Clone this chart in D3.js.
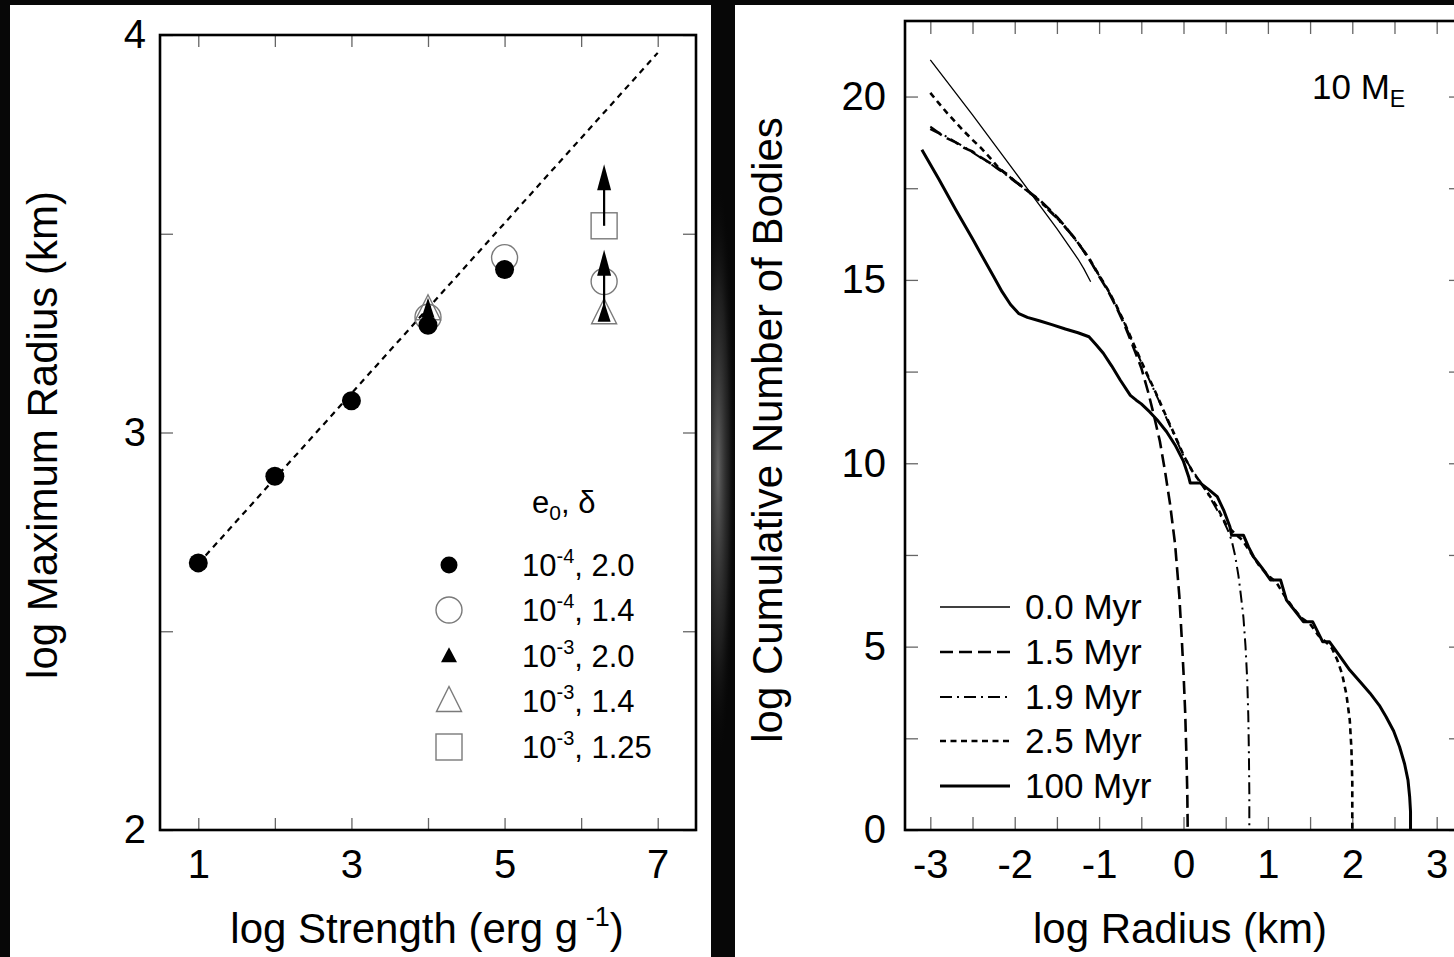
<!DOCTYPE html>
<html><head><meta charset="utf-8">
<script src="https://cdn.jsdelivr.net/npm/d3@7"></script>
<style>body{margin:0;background:#070707;overflow:hidden}</style>
</head><body>
<svg id="c" width="1454" height="957"></svg>
<script>
// ---------------- DATA (left panel) ----------------
const leftXTicks = [1,2,3,4,5,6,7];
const leftXLabels = [1,3,5,7];
const leftYTicks = [2,2.5,3,3.5,4];
const leftYLabels = [2,3,4];
const fitLineX = [1,7];
const fitLineY = [2.67,3.955];
const filledCircleX = [1,2,3,4,5];
const filledCircleY = [2.672,2.89,3.08,3.27,3.41];
const openCircleX = [4,5,6.3];
const openCircleY = [3.29,3.44,3.38];
const filledTriX = [4,6.3];
const filledTriY = [3.31,3.30];
const openTriX = [4,6.3];
const openTriY = [3.31,3.30];
const squareX = [6.3];
const squareY = [3.52];
const arrowX = [6.3,6.3];
const arrowFrom = [3.30,3.52];
const arrowTo = [3.46,3.675];
const leftLegendLabels = [["10","-4",", 2.0"],["10","-4",", 1.4"],["10","-3",", 2.0"],["10","-3",", 1.4"],["10","-3",", 1.25"]];
const leftLegendMarkers = ["fcircle","ocircle","ftri","otri","square"];

// ---------------- DATA (right panel) ----------------
const rightXTicks = [-3,-2.5,-2,-1.5,-1,-0.5,0,0.5,1,1.5,2,2.5,3];
const rightXLabels = [-3,-2,-1,0,1,2,3];
const rightYTicks = [0,2.5,5,7.5,10,12.5,15,17.5,20];
const rightYLabels = [0,5,10,15,20];
const seriesNames = ["0.0 Myr","1.5 Myr","1.9 Myr","2.5 Myr","100 Myr"];
const series00 = [[-3.0,21.0],[-2.5,19.5],[-2.0,17.95],[-1.5,16.4],[-1.35,15.9],[-1.25,15.57],[-1.18,15.3],[-1.1,14.95]];
const series15 = [[-3.0,19.12],[-2.9,19.0],[-2.8,18.86],[-2.7,18.75],[-2.6,18.6],[-2.5,18.5],[-2.4,18.34],[-2.3,18.2],[-2.2,18.05],[-2.1,17.9],[-2.0,17.7],[-1.9,17.53],[-1.8,17.35],[-1.7,17.17],[-1.6,16.95],[-1.5,16.72],[-1.4,16.45],[-1.3,16.17],[-1.2,15.85],[-1.1,15.5],[-1.0,15.1],[-0.9,14.72],[-0.8,14.28],[-0.7,13.78],[-0.6,13.2],[-0.5,12.6],[-0.42,11.95],[-0.35,11.3],[-0.28,10.6],[-0.22,9.8],[-0.16,8.9],[-0.1,7.8],[-0.05,6.4],[-0.02,5.2],[0.0,4.3],[0.02,3.2],[0.035,2.0],[0.045,1.0],[0.05,0]];
const series19 = [[-3.0,19.18],[-2.9,19.02],[-2.8,18.9],[-2.7,18.76],[-2.6,18.63],[-2.5,18.48],[-2.4,18.33],[-2.3,18.19],[-2.2,18.02],[-2.1,17.86],[-2.0,17.68],[-1.9,17.51],[-1.8,17.32],[-1.7,17.14],[-1.6,16.9],[-1.5,16.68],[-1.4,16.42],[-1.3,16.15],[-1.2,15.84],[-1.1,15.5],[-1.0,15.12],[-0.9,14.74],[-0.8,14.3],[-0.7,13.82],[-0.6,13.28],[-0.5,12.75],[-0.4,12.25],[-0.3,11.75],[-0.2,11.22],[-0.1,10.72],[0.0,10.2],[0.1,9.82],[0.2,9.5],[0.3,9.12],[0.4,8.72],[0.47,8.45],[0.53,8.15],[0.57,7.9],[0.61,7.5],[0.65,6.95],[0.68,6.4],[0.71,5.8],[0.735,5.0],[0.755,4.1],[0.768,3.1],[0.775,2.1],[0.78,1.0],[0.78,0]];
const series25 = [[-3.0,20.1],[-2.9,19.82],[-2.8,19.55],[-2.7,19.3],[-2.6,19.05],[-2.5,18.82],[-2.4,18.6],[-2.3,18.35],[-2.2,18.08],[-2.1,17.88],[-2.0,17.7],[-1.9,17.52],[-1.8,17.34],[-1.7,17.15],[-1.6,16.92],[-1.5,16.7],[-1.4,16.44],[-1.3,16.16],[-1.2,15.86],[-1.1,15.52],[-1.0,15.13],[-0.9,14.75],[-0.8,14.32],[-0.7,13.84],[-0.6,13.3],[-0.5,12.78],[-0.4,12.28],[-0.3,11.78],[-0.2,11.25],[-0.1,10.75],[0.0,10.22],[0.1,9.8],[0.2,9.48],[0.3,9.15],[0.4,8.8],[0.5,8.35],[0.6,8.1],[0.7,7.9],[0.8,7.55],[0.9,7.2],[1.0,6.95],[1.1,6.75],[1.2,6.38],[1.3,6.05],[1.4,5.78],[1.5,5.62],[1.6,5.3],[1.7,5.1],[1.76,4.95],[1.82,4.65],[1.88,4.25],[1.93,3.7],[1.97,3.0],[1.99,2.2],[2.0,1.3],[2.0,0]];
const series100 = [[-3.1,18.55],[-2.9,17.75],[-2.7,16.92],[-2.5,16.12],[-2.35,15.5],[-2.25,15.09],[-2.15,14.68],[-2.05,14.33],[-1.95,14.08],[-1.85,13.98],[-1.7,13.88],[-1.56,13.78],[-1.4,13.66],[-1.25,13.56],[-1.12,13.45],[-1.03,13.22],[-0.95,13.0],[-0.85,12.65],[-0.75,12.27],[-0.63,11.85],[-0.56,11.72],[-0.5,11.62],[-0.4,11.4],[-0.3,11.15],[-0.2,10.86],[-0.1,10.5],[0.0,10.05],[0.06,9.64],[0.08,9.46],[0.2,9.46],[0.3,9.28],[0.4,9.09],[0.48,8.7],[0.55,8.27],[0.57,8.04],[0.71,8.04],[0.77,7.72],[0.83,7.45],[0.93,7.15],[1.03,6.82],[1.15,6.82],[1.22,6.27],[1.32,5.98],[1.42,5.68],[1.53,5.68],[1.65,5.13],[1.73,5.13],[1.85,4.75],[1.97,4.36],[2.1,4.02],[2.21,3.73],[2.32,3.4],[2.4,3.09],[2.49,2.7],[2.56,2.27],[2.62,1.8],[2.66,1.36],[2.68,0.9],[2.69,0.5],[2.69,0]];
const seriesList = [series00,series15,series19,series25,series100];

// ---------------- STYLE ----------------
const FONT = '"Liberation Sans", Arial, Helvetica, sans-serif';
const seriesStyle = [
  {w:1.3, dash:null},
  {w:2.6, dash:"13,6"},
  {w:2.0, dash:"12,5,2,5"},
  {w:2.6, dash:"6,4.5"},
  {w:3.0, dash:null}
];

const svg = d3.select('#c');
const defs = svg.append('defs');
const rg = defs.append('radialGradient').attr('id','glow');
rg.append('stop').attr('offset','0%').attr('stop-color','#a0a0a0').attr('stop-opacity',0.6);
rg.append('stop').attr('offset','60%').attr('stop-color','#555').attr('stop-opacity',0.3);
rg.append('stop').attr('offset','100%').attr('stop-color','#000').attr('stop-opacity',0);
svg.append('rect').attr('width',1454).attr('height',957).attr('fill','#070707');
svg.append('ellipse').attr('cx',718).attr('cy',470).attr('rx',18).attr('ry',300).attr('fill','url(#glow)');

// panels
svg.append('rect').attr('x',10).attr('y',5).attr('width',701).attr('height',952).attr('fill','#fff');
svg.append('rect').attr('x',735).attr('y',5).attr('width',719).attr('height',952).attr('fill','#fff');

function styleAxis(g){
  g.select('.domain').remove();
  g.selectAll('.tick line').attr('stroke','#666').attr('stroke-width',1.3);
  g.selectAll('.tick text').attr('fill','#000').style('font-family',FONT).style('font-size','40px');
}
function tri(w,h){ return `M0,${-h*0.58}L${w/2},${h*0.42}L${-w/2},${h*0.42}Z`; }

// ================= LEFT PANEL =================
const xL = d3.scaleLinear().domain([0.5,7.5]).range([160,696]);
const yL = d3.scaleLinear().domain([2,4]).range([830,35]);
const L = svg.append('g');
const fmtL = lab => d => lab.includes(d) ? String(d) : '';
L.append('g').attr('transform',`translate(0,${yL(2)})`)
  .call(d3.axisBottom(xL).tickValues(leftXTicks).tickSizeInner(-12).tickSizeOuter(0).tickPadding(20).tickFormat(fmtL(leftXLabels))).call(styleAxis);
L.append('g').attr('transform',`translate(0,${yL(4)})`)
  .call(d3.axisTop(xL).tickValues(leftXTicks).tickSizeInner(-12).tickSizeOuter(0).tickFormat('')).call(styleAxis);
L.append('g').attr('transform',`translate(${xL(0.5)},0)`)
  .call(d3.axisLeft(yL).tickValues(leftYTicks).tickSizeInner(-13).tickSizeOuter(0).tickPadding(14).tickFormat(fmtL(leftYLabels))).call(styleAxis);
L.append('g').attr('transform',`translate(${xL(7.5)},0)`)
  .call(d3.axisRight(yL).tickValues(leftYTicks).tickSizeInner(-13).tickSizeOuter(0).tickFormat('')).call(styleAxis);
L.append('rect').attr('x',xL(0.5)).attr('y',yL(4)).attr('width',xL(7.5)-xL(0.5)).attr('height',yL(2)-yL(4))
  .attr('fill','none').attr('stroke','#000').attr('stroke-width',2.6);

L.append('path').datum(fitLineX.map((x,i)=>[x,fitLineY[i]]))
  .attr('d',d3.line().x(d=>xL(d[0])).y(d=>yL(d[1])))
  .attr('fill','none').attr('stroke','#000').attr('stroke-width',2.2).attr('stroke-dasharray','6,5');

const GRAY = '#7a7a7a';
function drawMarker(g,type,cx,cy,legend){
  if(type==='fcircle') g.append('circle').attr('cx',cx).attr('cy',cy).attr('r',legend?8.5:9.5).attr('fill','#000');
  if(type==='ocircle') g.append('circle').attr('cx',cx).attr('cy',cy).attr('r',13).attr('fill','none').attr('stroke',GRAY).attr('stroke-width',1.4);
  if(type==='ftri') g.append('path').attr('transform',`translate(${cx},${cy})`).attr('d',legend?tri(16,15):tri(13,20)).attr('fill','#000');
  if(type==='otri') g.append('path').attr('transform',`translate(${cx},${cy})`).attr('d',tri(25,25)).attr('fill','none').attr('stroke',GRAY).attr('stroke-width',1.4);
  if(type==='square') g.append('rect').attr('x',cx-13).attr('y',cy-13).attr('width',26).attr('height',26).attr('fill','none').attr('stroke',GRAY).attr('stroke-width',1.4);
}
openCircleX.forEach((x,i)=>drawMarker(L,'ocircle',xL(x),yL(openCircleY[i])));
openTriX.forEach((x,i)=>drawMarker(L,'otri',xL(x),yL(openTriY[i])));
squareX.forEach((x,i)=>drawMarker(L,'square',xL(x),yL(squareY[i])));
filledCircleX.forEach((x,i)=>drawMarker(L,'fcircle',xL(x),yL(filledCircleY[i])));
filledTriX.forEach((x,i)=>drawMarker(L,'ftri',xL(x),yL(filledTriY[i])));
arrowX.forEach((x,i)=>{
  const ax=xL(x), y0=yL(arrowFrom[i]), y1=yL(arrowTo[i]), hh=26, hw=14;
  L.append('line').attr('x1',ax).attr('x2',ax).attr('y1',y0).attr('y2',y1+hh-2).attr('stroke','#000').attr('stroke-width',2.2);
  L.append('path').attr('d',`M${ax},${y1}L${ax+hw/2},${y1+hh}L${ax-hw/2},${y1+hh}Z`).attr('fill','#000');
});

// left legend
const LG = L.append('g').style('font-family',FONT).attr('fill','#000');
const lhead = LG.append('text').attr('x',532).attr('y',513).style('font-size','31px');
lhead.append('tspan').text('e');
lhead.append('tspan').attr('dy',7).style('font-size','21px').text('0');
lhead.append('tspan').attr('dy',-7).text(', δ');
const legRowY = [565,610,656,701,747];
leftLegendLabels.forEach((lab,i)=>{
  drawMarker(LG,leftLegendMarkers[i],449,legRowY[i],true);
  const t = LG.append('text').attr('x',522).attr('y',legRowY[i]+11).style('font-size','31px');
  t.append('tspan').text(lab[0]);
  t.append('tspan').attr('dy',-13).style('font-size','20px').text(lab[1]);
  t.append('tspan').attr('dy',13).text(lab[2]);
});

const lxt = L.append('text').attr('x',427).attr('y',943).attr('text-anchor','middle').style('font-family',FONT).style('font-size','42px');
lxt.append('tspan').text('log Strength (erg g');
lxt.append('tspan').attr('dy',-17).style('font-size','27px').text(' -1');
lxt.append('tspan').attr('dy',17).text(')');
L.append('text').attr('transform','translate(57,435) rotate(-90)').attr('text-anchor','middle')
  .style('font-family',FONT).style('font-size','42px').text('log Maximum Radius (km)');

// ================= RIGHT PANEL =================
const xR = d3.scaleLinear().domain([-3.3,3.3]).range([905,1462]);
const yR = d3.scaleLinear().domain([0,22.06]).range([830,21]);
const R = svg.append('g');
const fmtR = lab => d => lab.includes(d) ? String(d) : '';
R.append('g').attr('transform',`translate(0,${yR(0)})`)
  .call(d3.axisBottom(xR).tickValues(rightXTicks).tickSizeInner(-13).tickSizeOuter(0).tickPadding(20).tickFormat(fmtR(rightXLabels))).call(styleAxis);
R.append('g').attr('transform',`translate(0,${yR(22.06)})`)
  .call(d3.axisTop(xR).tickValues(rightXTicks).tickSizeInner(-13).tickSizeOuter(0).tickFormat('')).call(styleAxis);
R.append('g').attr('transform',`translate(${xR(-3.3)},0)`)
  .call(d3.axisLeft(yR).tickValues(rightYTicks).tickSizeInner(-13).tickSizeOuter(0).tickPadding(19).tickFormat(fmtR(rightYLabels))).call(styleAxis);
R.append('g').attr('transform',`translate(${xR(3.3)},0)`)
  .call(d3.axisRight(yR).tickValues(rightYTicks).tickSizeInner(-13).tickSizeOuter(0).tickFormat('')).call(styleAxis);
R.append('rect').attr('x',xR(-3.3)).attr('y',yR(22.06)).attr('width',xR(3.3)-xR(-3.3)).attr('height',yR(0)-yR(22.06))
  .attr('fill','none').attr('stroke','#000').attr('stroke-width',2.6);

const lineR = d3.line().x(d=>xR(d[0])).y(d=>yR(d[1]));
seriesList.forEach((s,i)=>{
  R.append('path').datum(s).attr('d',lineR).attr('fill','none').attr('stroke','#000')
    .attr('stroke-width',seriesStyle[i].w).attr('stroke-dasharray',seriesStyle[i].dash)
    .attr('stroke-linejoin','round');
});

const rLegY = [607,652,697,741,786];
seriesNames.forEach((n,i)=>{
  R.append('line').attr('x1',940).attr('x2',1010).attr('y1',rLegY[i]).attr('y2',rLegY[i])
    .attr('stroke','#000').attr('stroke-width',seriesStyle[i].w).attr('stroke-dasharray',seriesStyle[i].dash);
  R.append('text').attr('x',1025).attr('y',rLegY[i]+12).style('font-family',FONT).style('font-size','35px').text(n);
});
const me = R.append('text').attr('x',1312).attr('y',99).style('font-family',FONT).style('font-size','35px');
me.append('tspan').text('10 M');
me.append('tspan').attr('dy',8).style('font-size','23px').text('E');

R.append('text').attr('x',1180).attr('y',943).attr('text-anchor','middle').style('font-family',FONT).style('font-size','42px').text('log Radius (km)');
R.append('text').attr('transform','translate(782,430) rotate(-90)').attr('text-anchor','middle')
  .style('font-family',FONT).style('font-size','42px').text('log Cumulative Number of Bodies');
</script>
</body></html>
